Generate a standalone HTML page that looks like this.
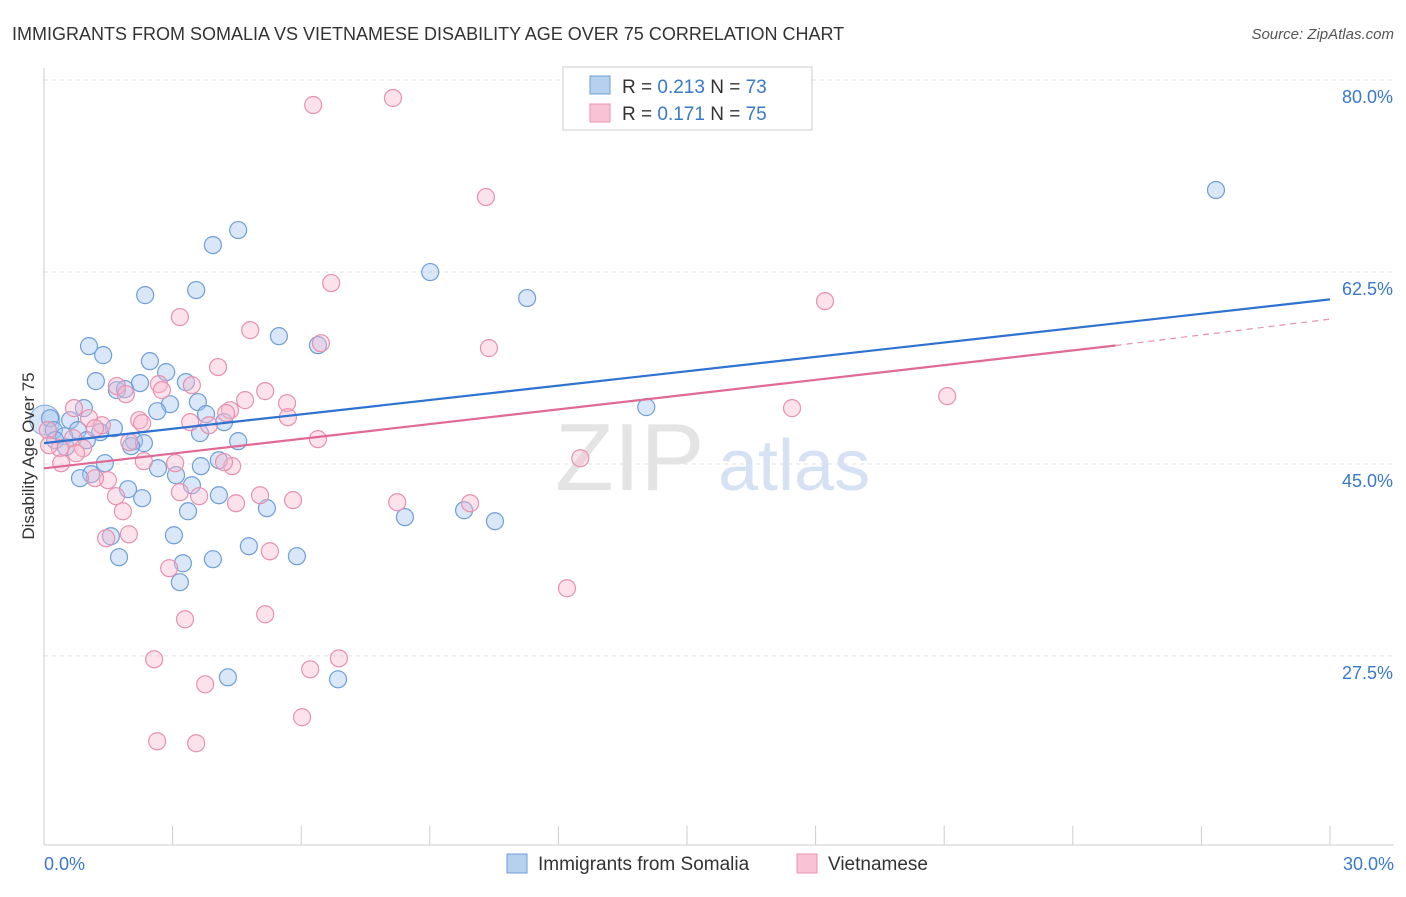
<!DOCTYPE html>
<html><head><meta charset="utf-8">
<style>
body{margin:0;background:#fff;font-family:"Liberation Sans",sans-serif;}
svg text{font-family:"Liberation Sans",sans-serif;}
</style></head>
<body>
<svg width="1406" height="892">
<text x="12" y="40" font-size="18" fill="#333">IMMIGRANTS FROM SOMALIA VS VIETNAMESE DISABILITY AGE OVER 75 CORRELATION CHART</text>
<text x="1394" y="39" font-size="15" fill="#555" font-style="italic" text-anchor="end">Source: ZipAtlas.com</text>
<g id="grid"></g>
<g id="axes"></g>
<text x="555" y="490" font-size="96" fill="#e4e4e4" font-family="Liberation Serif">ZIP</text>
<text x="718" y="490" font-size="72" fill="#d6e2f3">atlas</text>
<g id="pts"></g>
<g id="trends"></g>
<text transform="translate(34,456) rotate(-90)" font-size="17" fill="#333" text-anchor="middle">Disability Age Over 75</text>
<g>
<rect x="563" y="67" width="249" height="63" fill="#fff" stroke="#ccc"/>
<rect x="590" y="76" width="20" height="18" fill="#b7d0f0" stroke="#6f9ed8"/>
<rect x="590" y="104" width="20" height="18" fill="#f8c3d4" stroke="#e890ae"/>
<text x="622" y="93" font-size="19" fill="#333">R = <tspan fill="#3a78c9">0.213</tspan>   N = <tspan fill="#3a78c9">73</tspan></text>
<text x="622" y="120" font-size="19" fill="#333">R =  <tspan fill="#3a78c9">0.171</tspan>   N = <tspan fill="#3a78c9">75</tspan></text>
</g>
<g>
<rect x="507" y="854" width="20" height="19" fill="#b7d0f0" stroke="#6f9ed8"/>
<text x="538" y="870" font-size="19" fill="#333">Immigrants from Somalia</text>
<rect x="797" y="854" width="20" height="19" fill="#f8c3d4" stroke="#e890ae"/>
<text x="828" y="870" font-size="19" fill="#333">Vietnamese</text>
</g>
</svg>
<script>
const yTicks=[80,62.5,45,27.5];
const yTickLabels=["80.0%","62.5%","45.0%","27.5%"];
const xTickLabels=["0.0%","30.0%"];
const blueX=[27.34,4.53,3.94,9.01,2.36,3.55,11.27,5.48,6.39,1.05,1.38,2.47,2.85,1.21,2.24,3.31,1.70,1.89,2.94,2.64,3.59,3.78,14.05,0.93,0.61,0.14,0.23,0.79,1.63,1.31,4.20,3.64,0.47,1.00,0.26,4.53,2.10,2.33,2.03,0.51,1.42,4.08,2.66,3.66,3.08,1.10,0.84,3.45,1.96,4.08,2.29,3.36,5.20,8.42,9.80,10.52,1.56,3.03,4.78,1.75,3.94,5.90,3.24,3.17,4.29,6.86];
const blueY=[69.97,66.32,64.95,62.49,60.39,60.85,60.12,56.65,55.83,55.74,54.92,54.37,53.37,52.55,52.37,52.46,51.73,51.82,50.45,49.81,50.64,49.54,50.18,50.09,48.99,49.17,48.08,48.08,48.26,47.90,48.81,47.81,47.53,47.17,47.17,47.08,47.08,46.9,46.62,46.53,45.07,45.34,44.61,44.80,43.98,44.07,43.70,43.06,42.70,42.15,41.88,40.69,40.97,40.15,40.78,39.78,38.41,38.50,37.5,36.5,36.32,36.59,35.95,34.22,25.55,25.37];
const pinkX=[8.14,6.28,10.31,6.70,18.22,3.17,4.81,6.46,10.38,4.06,2.68,3.45,1.70,2.75,5.16,1.91,4.69,5.67,21.07,17.45,4.34,4.25,0.70,5.69,1.05,2.22,3.41,3.85,1.35,2.29,1.19,0.09,6.39,0.68,1.99,0.91,0.37,0.12,0.75,12.51,0.40,2.33,3.06,4.39,4.20,1.49,1.19,3.17,3.62,1.68,5.04,5.81,4.48,8.24,9.94,1.84,1.98,1.45,5.27,2.92,12.20,5.16,3.29,2.57,6.88,6.21,3.76,6.02,2.64,3.55];
const pinkY=[78.36,77.72,69.33,61.49,59.84,58.39,57.2,56.01,55.56,53.83,52.28,52.18,52.1,51.73,51.64,51.36,50.82,50.54,51.18,50.09,49.9,49.63,50.09,49.26,49.17,48.99,48.81,48.53,48.53,48.72,48.26,48.08,47.26,47.35,46.99,46.44,46.44,46.71,45.98,45.52,45.07,45.25,45.07,44.8,45.16,43.52,43.7,42.43,42.06,42.06,42.15,41.70,41.42,41.51,41.42,40.69,38.59,38.23,37.04,35.50,33.67,31.30,30.84,27.19,27.28,26.28,24.91,21.91,19.72,19.54];
const blueTrend=[46.9,60.0];
const pinkTrend=[44.6,55.8,58.2];
const ns="http://www.w3.org/2000/svg";
const X=v=>44+v/30*1286, Y=v=>80+(80-v)*10.97;
function mk(t,a,p){const e=document.createElementNS(ns,t);for(const k in a)e.setAttribute(k,a[k]);document.getElementById(p).appendChild(e);return e;}
yTicks.forEach((t,i)=>{
 const l=mk('line',{x1:44,x2:1394,y1:Y(t),y2:Y(t),stroke:'#e2e2e2','stroke-dasharray':'4,4'},'grid');
 
 
 const tx=mk('text',{x:1393,y:Y(t)+23,'font-size':18,fill:'#3a78c9','text-anchor':'end'},'axes');
 tx.textContent=yTickLabels[i];
 
 
});
mk('line',{x1:44,x2:44,y1:68,y2:845,stroke:'#ccc'},'axes');
mk('line',{x1:44,x2:1394,y1:845,y2:845,stroke:'#ccc'},'axes');
for(let i=0;i<=10;i++){const l=mk('line',{x1:X(i*3),x2:X(i*3),y1:826,y2:845,stroke:'#ccc'},'axes');
 
 }
[[0,'start',44],[1,'end',1394]].forEach(([i,a,x])=>{const t=mk('text',{x:x,y:870,'font-size':18,fill:'#3a78c9','text-anchor':a},'axes');t.textContent=xTickLabels[i];
 
 });
const big=mk('circle',{cx:X(0.02),cy:Y(49),r:15,fill:'rgba(140,180,230,0.35)',stroke:'#7ea8dd'},'pts');


blueX.forEach((x,i)=>{const c=mk('circle',{cx:X(x),cy:Y(blueY[i]),r:8.5,fill:'rgba(160,195,240,0.4)',stroke:'#6f9ed8','stroke-width':1.2},'pts');
 
 });
pinkX.forEach((x,i)=>{const c=mk('circle',{cx:X(x),cy:Y(pinkY[i]),r:8.5,fill:'rgba(248,185,205,0.4)',stroke:'#e890ae','stroke-width':1.2},'pts');
 
 });
const bl=mk('line',{x1:X(0),y1:Y(blueTrend[0]),x2:X(30),y2:Y(blueTrend[1]),stroke:'#2e72d2','stroke-width':2.2},'trends');


const pl=mk('line',{x1:X(0),y1:Y(pinkTrend[0]),x2:X(25),y2:Y(pinkTrend[1]),stroke:'#e06a95','stroke-width':2.2},'trends');


const pd=mk('line',{x1:X(25),y1:Y(pinkTrend[1]),x2:X(30),y2:Y(pinkTrend[2]),stroke:'#e890ae','stroke-width':1.2,'stroke-dasharray':'6,5'},'trends');


</script>
</body></html>
